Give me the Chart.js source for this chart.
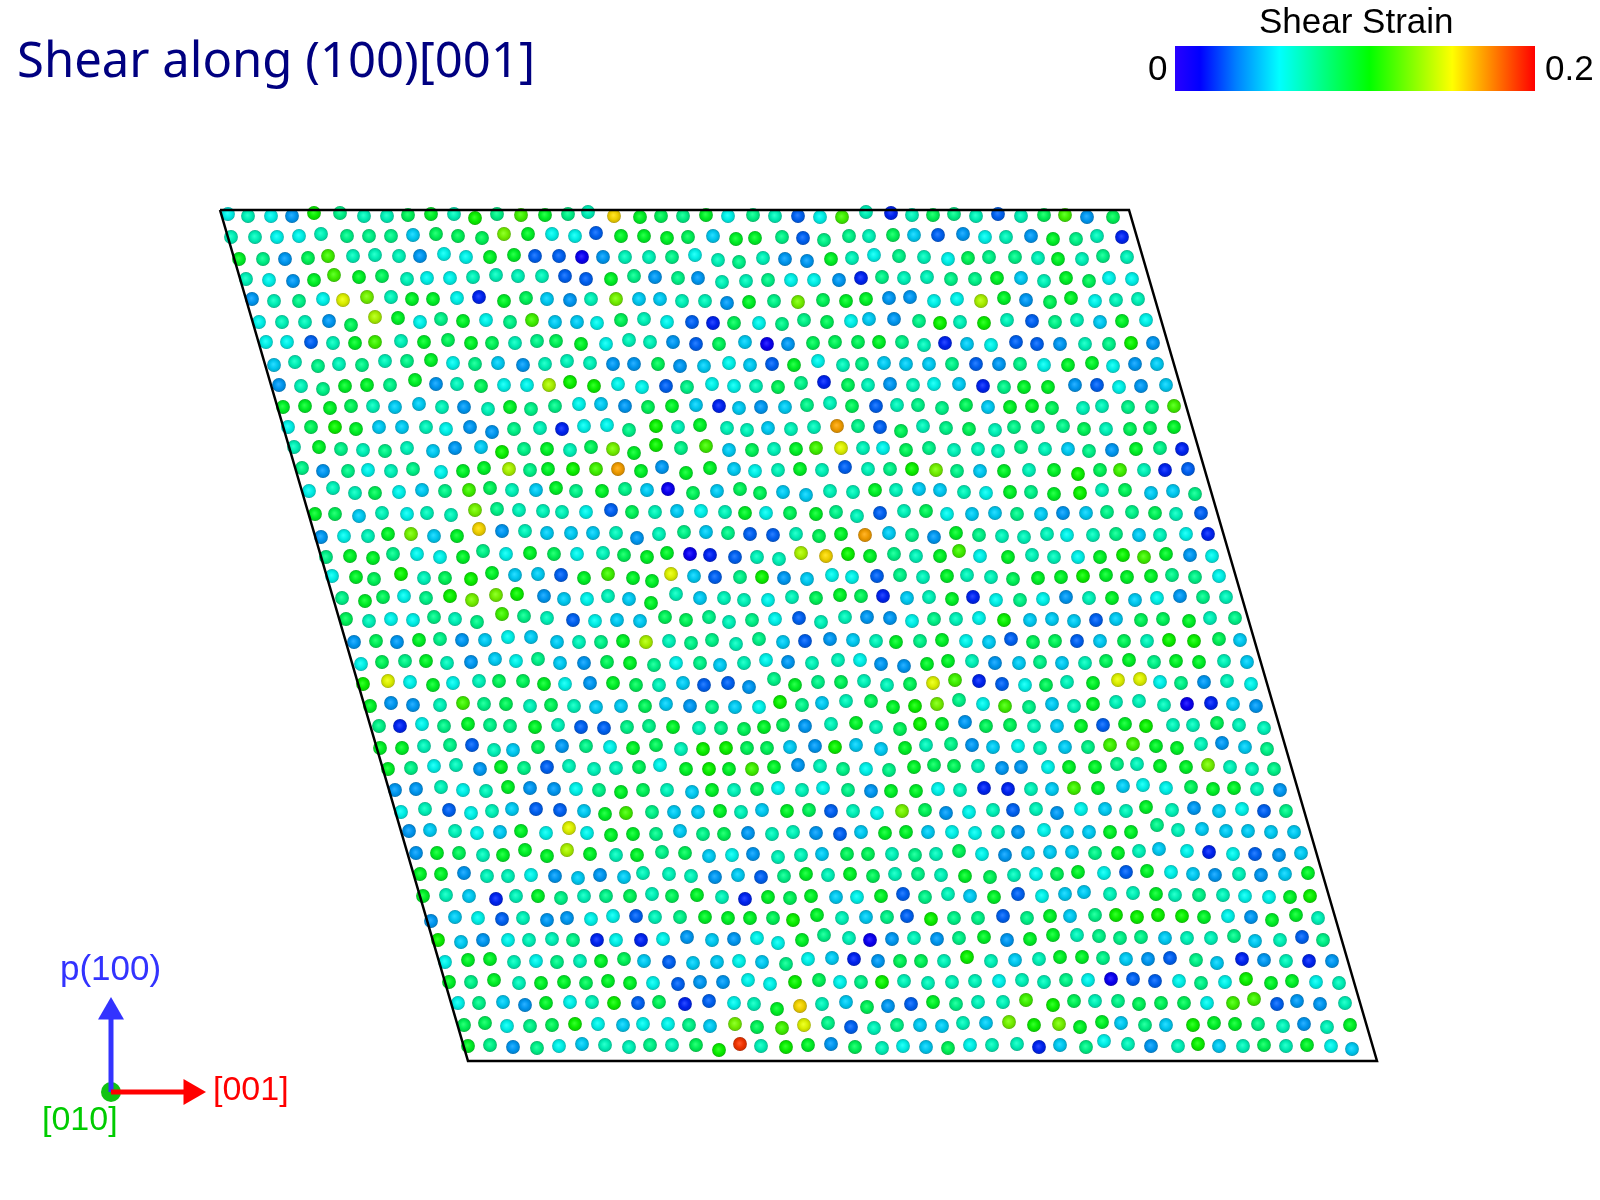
<!DOCTYPE html>
<html>
<head>
<meta charset="utf-8">
<title>Shear along (100)[001]</title>
<script src="https://cdn.jsdelivr.net/npm/chart.js@4/dist/chart.umd.min.js"></script>
<style>
html, body { margin: 0; padding: 0; background: #fff; }
canvas { display: block; }
</style>
</head>
<body>
<canvas id="atoms" width="1600" height="1200"></canvas>
<script>
// atom rows: row baseline, x per atom, y offset per atom, strain in units of 0.01
const rowY = [215,236,257,278,299,322,343,363,385,407,427,449,469,490,513,535,556,577,598,619,641,663,683,705,726,748,768,790,811,832,853,876,897,918,940,962,982,1003,1025,1046];

const rowX = [
[228,248,271,292,314,340,364,387,408,431,454,475,497,521,545,568,588,614,640,661,683,706,728,753,775,798,820,842,866,891,912,933,954,976,998,1021,1044,1065,1087,1113],
[231,255,277,299,321,347,369,391,413,436,458,482,504,528,552,575,596,621,644,667,688,713,736,755,782,803,824,849,869,893,914,938,963,985,1006,1031,1053,1076,1097,1122],
[239,263,285,308,328,353,375,399,420,444,466,490,514,535,559,582,603,625,649,672,695,718,739,763,785,807,831,852,874,899,924,948,968,989,1015,1038,1058,1082,1103,1127],
[246,269,293,314,334,359,382,407,427,450,473,496,518,542,565,586,611,634,655,678,698,722,746,768,791,814,839,861,882,904,927,951,975,997,1021,1044,1066,1089,1109,1132],
[252,274,299,323,343,367,391,412,433,457,479,504,526,547,570,591,616,639,660,682,705,727,749,774,798,823,846,866,889,910,934,957,981,1004,1026,1050,1071,1095,1116,1138],
[259,282,305,329,351,375,398,420,441,463,486,510,532,555,577,597,621,644,667,692,713,734,759,782,804,827,851,869,894,919,940,960,984,1007,1032,1055,1077,1100,1122,1146],
[266,287,311,333,355,375,401,424,448,471,492,515,537,556,581,606,629,650,673,696,719,745,767,788,813,835,858,879,902,924,945,967,991,1016,1037,1060,1085,1109,1131,1153],
[274,295,318,339,362,385,407,431,453,475,498,523,545,567,590,613,634,658,680,704,729,750,772,794,818,843,862,884,906,929,952,976,999,1020,1044,1068,1092,1113,1135,1157],
[279,301,323,345,367,390,415,436,457,481,504,527,549,570,594,618,642,666,687,712,734,756,778,801,824,848,868,890,913,934,959,983,1004,1024,1048,1075,1097,1119,1141,1166],
[283,305,330,351,373,395,419,442,464,488,510,531,555,579,601,625,648,672,696,719,739,761,785,807,830,852,876,897,918,942,966,988,1010,1032,1052,1083,1102,1128,1152,1174],
[288,311,335,356,379,402,426,446,470,492,514,540,562,584,607,629,656,678,700,727,747,768,791,814,837,858,880,901,923,946,969,995,1014,1038,1063,1084,1106,1130,1150,1174],
[294,319,341,363,385,407,433,455,481,502,524,547,570,591,613,634,656,681,706,729,752,774,796,816,841,863,883,906,929,954,978,998,1021,1045,1068,1089,1112,1136,1160,1182],
[302,323,348,368,391,413,441,463,484,509,530,548,573,596,618,641,662,686,710,734,755,778,800,822,845,868,890,912,936,957,980,1004,1029,1054,1078,1100,1120,1144,1165,1188],
[309,333,355,375,399,422,445,469,490,512,536,556,576,602,625,647,668,693,717,740,760,783,806,830,853,875,896,919,940,964,986,1010,1031,1054,1080,1102,1125,1151,1173,1195],
[315,335,359,382,407,427,451,475,497,519,543,562,586,611,632,655,677,701,725,745,766,790,816,836,857,880,904,926,947,972,995,1017,1041,1063,1086,1107,1132,1155,1176,1201],
[321,344,368,388,411,434,457,479,502,525,547,571,593,616,637,659,684,706,728,750,773,796,819,841,865,889,912,934,956,979,1002,1024,1047,1067,1093,1116,1139,1160,1186,1208],
[326,350,373,393,417,440,463,483,506,530,554,577,603,624,647,667,690,710,735,757,779,801,826,848,870,894,916,940,959,980,1008,1032,1054,1078,1100,1123,1144,1166,1190,1212],
[332,356,374,401,424,445,471,492,515,538,561,584,608,633,652,671,694,715,740,762,784,807,832,852,877,900,923,947,967,991,1013,1038,1061,1083,1106,1127,1151,1172,1195,1219],
[342,365,383,404,426,450,472,496,517,544,564,587,608,629,651,676,700,724,744,768,792,816,840,861,883,907,929,952,973,996,1020,1043,1066,1089,1112,1135,1157,1180,1203,1226],
[346,369,391,413,434,455,477,502,524,547,573,595,617,640,665,686,709,729,752,775,799,821,845,867,890,912,934,956,979,1004,1030,1052,1074,1096,1116,1141,1163,1189,1210,1235],
[354,376,397,419,440,462,485,508,531,557,579,601,623,646,669,691,712,736,759,783,805,830,853,876,896,920,942,966,989,1011,1033,1055,1077,1100,1124,1147,1169,1194,1219,1240],
[361,382,405,426,447,471,495,516,538,560,584,607,630,654,676,700,720,744,766,788,812,838,860,881,904,927,948,972,995,1019,1040,1062,1085,1106,1129,1154,1176,1199,1224,1247],
[363,388,410,433,453,479,499,523,544,565,590,613,636,659,683,704,728,749,774,795,818,841,864,887,910,933,955,979,1002,1025,1046,1067,1093,1118,1140,1160,1181,1204,1227,1251],
[370,391,413,440,463,484,506,530,551,574,596,621,645,666,690,712,735,759,780,802,822,846,871,893,915,937,959,983,1005,1029,1052,1074,1093,1116,1139,1164,1187,1211,1233,1256],
[379,400,422,444,468,490,510,535,558,581,604,627,649,673,699,721,744,764,783,805,831,856,876,900,920,942,965,986,1010,1034,1057,1081,1103,1125,1146,1173,1193,1217,1239,1264],
[380,402,424,450,472,494,513,538,562,586,610,633,656,681,703,726,747,767,790,815,835,856,881,905,926,951,972,993,1018,1040,1065,1088,1110,1133,1156,1177,1201,1222,1245,1267],
[388,411,434,456,480,501,524,547,569,594,616,639,660,686,709,729,752,774,798,820,843,866,889,914,934,954,978,1002,1021,1048,1069,1095,1117,1137,1160,1186,1208,1230,1252,1274],
[395,416,441,463,486,508,530,554,576,599,621,643,667,692,712,734,757,778,802,823,848,871,891,916,938,960,984,1008,1031,1052,1074,1098,1123,1143,1166,1191,1213,1234,1257,1280],
[401,425,449,471,492,512,536,560,584,605,626,652,674,698,720,741,762,787,809,831,853,877,902,925,946,969,993,1013,1036,1057,1081,1105,1126,1146,1172,1194,1219,1242,1264,1286],
[409,430,455,477,500,521,546,569,587,611,633,656,680,703,724,748,772,793,816,840,861,885,906,928,952,975,998,1018,1044,1067,1089,1110,1131,1157,1178,1202,1226,1248,1271,1294],
[416,437,459,483,503,525,547,567,590,616,637,662,685,709,732,753,778,801,822,847,868,892,915,936,959,982,1005,1028,1050,1072,1095,1118,1139,1159,1187,1209,1233,1255,1279,1301],
[420,441,464,487,508,531,555,578,600,624,643,669,691,715,738,761,784,806,828,850,873,895,918,941,965,990,1014,1036,1057,1078,1104,1126,1147,1171,1193,1215,1239,1261,1285,1308],
[423,446,469,496,516,538,561,584,606,630,652,672,697,722,745,768,790,811,836,857,881,903,925,948,970,994,1018,1042,1065,1084,1110,1133,1156,1175,1199,1223,1245,1269,1290,1310],
[431,455,478,502,523,547,567,591,613,636,655,680,705,728,750,773,793,817,842,866,887,907,931,954,978,1003,1027,1050,1070,1095,1116,1137,1158,1182,1204,1228,1251,1272,1296,1318],
[438,461,483,508,529,552,573,597,616,641,663,687,712,734,757,778,802,824,849,870,892,914,937,959,984,1007,1030,1053,1077,1099,1120,1141,1165,1187,1211,1234,1255,1280,1302,1323],
[445,468,490,514,536,557,580,601,624,644,669,693,717,739,762,786,808,832,854,878,900,921,944,967,991,1015,1039,1060,1082,1103,1126,1148,1170,1196,1217,1242,1264,1286,1309,1332],
[449,471,494,519,541,564,586,608,630,653,678,700,723,748,770,795,819,840,861,882,904,928,952,975,999,1022,1044,1066,1088,1111,1133,1155,1179,1201,1225,1246,1271,1292,1316,1339],
[458,479,503,525,546,570,592,614,638,659,685,709,734,754,777,800,822,846,867,888,911,933,956,978,1003,1026,1053,1074,1095,1118,1139,1161,1184,1207,1233,1254,1277,1297,1320,1345],
[464,485,507,530,552,575,598,623,643,668,689,710,735,757,782,804,828,851,874,897,920,942,963,986,1009,1034,1059,1080,1102,1121,1145,1166,1193,1214,1235,1258,1283,1304,1327,1350],
[468,490,513,537,559,582,605,629,650,672,696,719,740,761,786,808,831,855,882,903,926,948,970,992,1017,1039,1060,1086,1104,1128,1151,1178,1198,1219,1243,1264,1286,1307,1331,1352]
];

const rowDy = [
[-1,1,1,1,-2,-2,1,1,0,-1,-1,3,-1,0,0,-1,-3,1,2,1,1,0,1,0,1,1,2,2,-3,-2,0,0,-1,1,-1,1,0,0,2,2],
[1,1,1,0,-2,0,0,0,-1,-2,0,2,-2,-2,-2,0,-3,0,0,2,1,0,3,2,1,2,4,0,0,-1,-1,-1,-2,1,1,0,3,3,0,1],
[2,2,2,1,-1,-1,-2,-1,-1,-3,0,0,-2,-1,-1,0,0,0,0,0,-2,3,5,1,2,4,2,1,-2,-1,0,2,1,0,0,1,2,2,-1,0],
[1,2,3,2,-3,-1,-2,1,0,0,-1,-3,-2,-2,-2,1,1,-2,-1,0,0,4,3,2,2,2,2,0,-1,0,-1,1,1,0,0,3,0,3,0,1],
[0,2,2,0,1,-2,-2,0,0,-1,-2,2,-1,0,1,0,0,0,0,2,2,4,3,2,3,1,2,0,-1,-2,2,0,2,-1,1,3,-1,2,1,0],
[0,0,0,-1,3,-5,-4,0,-3,-1,-2,0,-2,0,0,1,-2,-3,0,0,1,1,1,2,-2,0,-1,-3,-3,-1,1,0,1,-2,-1,0,-2,0,-1,-2],
[-1,-1,-1,0,0,-1,-2,-1,-3,0,0,0,-2,-2,1,1,-3,-1,-1,1,1,-1,1,1,0,-1,-1,-1,-1,2,0,1,2,-1,1,1,1,1,0,0],
[2,-1,3,1,2,-2,-2,-3,0,1,0,2,1,-2,0,1,1,1,3,3,0,2,1,2,-2,2,1,0,1,1,1,1,1,1,2,2,0,3,1,1],
[0,1,4,1,0,0,-5,-1,-1,1,0,0,0,-3,1,-1,2,1,2,-1,1,1,2,-2,-3,0,0,-1,0,-1,-1,1,2,2,2,0,0,2,1,0],
[0,-1,1,-1,-1,0,-3,0,0,2,0,2,-1,-3,-3,-1,0,-1,-2,-1,1,0,0,-2,-4,-1,-1,-2,-2,1,-2,0,0,-1,1,1,-1,0,0,-1],
[0,0,0,2,0,0,0,2,0,5,2,1,2,-1,-2,3,-1,0,-2,1,3,1,2,0,-1,-1,0,4,-1,1,2,3,0,0,-1,2,2,2,1,0],
[-2,-2,0,1,2,-1,2,-1,-2,3,0,0,1,-2,0,4,-4,-1,-3,1,1,0,0,-1,-1,-1,-1,1,-1,1,0,2,-2,0,0,2,1,0,-1,0],
[-1,2,2,1,2,0,3,2,-1,0,1,0,0,0,0,2,-2,4,-1,0,2,1,0,1,-2,0,0,0,1,2,2,2,1,1,5,1,1,1,1,0],
[1,-2,3,3,2,0,1,0,-2,0,0,-2,1,1,-1,0,-1,3,1,-1,3,2,5,1,2,0,0,-1,0,2,3,2,2,4,3,0,0,3,1,4],
[1,1,3,0,1,0,2,-3,-4,-3,-2,-1,-1,-3,-1,-1,-2,-2,-1,0,0,0,1,-1,3,0,-2,-2,1,1,0,1,1,0,0,-1,-1,0,1,0],
[2,1,1,-1,-1,1,1,-6,-4,-4,-2,-2,-2,-2,3,-1,-3,-3,-2,-1,0,-1,1,-1,0,-2,0,2,-2,0,1,2,-1,0,0,-1,0,0,-1,-1],
[1,0,2,-2,-2,1,1,-5,-2,-3,-2,-2,-3,-1,1,-3,-2,-1,1,1,3,-3,0,-2,0,-2,0,0,-5,0,1,-1,1,1,1,-1,1,-2,-1,0],
[-1,0,2,-3,1,1,2,-4,-2,-3,-2,1,-3,1,4,-3,-1,0,0,0,1,2,-2,0,-1,-2,0,-1,-2,0,2,1,0,-1,-2,0,-1,-2,0,-1],
[0,3,-1,-2,0,-2,2,-3,-4,-2,1,1,-2,1,5,-4,0,0,2,2,-1,0,-3,-2,-2,0,-1,1,-1,2,2,1,-1,0,0,2,0,-2,-1,-1],
[0,2,0,1,-2,0,3,-5,-3,-1,1,2,1,2,-2,1,-2,3,1,0,-1,3,-2,-2,-1,2,0,0,-1,1,1,0,2,1,0,1,0,2,-1,-1],
[1,0,1,-1,-2,-1,-1,-4,-4,1,1,1,0,1,0,2,-1,3,-2,1,0,-2,-1,0,1,0,-1,0,1,-2,1,0,0,0,0,0,-1,0,-2,-1],
[1,-1,-2,-2,0,-1,-4,-2,-4,0,0,-1,0,2,0,0,2,0,-3,-1,0,-3,-3,1,3,1,-2,-2,0,0,-1,0,0,-2,-3,-1,-2,-1,-2,-1],
[1,-2,-1,2,0,-2,-2,-2,1,1,0,0,2,2,0,2,0,4,-4,2,-1,-1,-2,2,1,0,-3,-2,1,2,2,-1,0,-3,-4,-1,0,-1,-2,1],
[1,-2,0,0,-2,-1,-1,1,0,1,2,1,1,-1,1,2,2,2,-3,0,-2,-4,-4,2,1,-1,-5,-1,1,2,-1,1,-1,-3,-4,0,-1,-2,-1,1],
[0,0,-2,0,-2,-1,0,1,-1,1,2,1,0,1,2,2,3,1,-1,0,-2,-3,1,3,-2,-2,-4,0,-1,0,0,0,-1,-2,0,-1,-1,-3,-1,2],
[0,0,-2,-3,-3,2,2,-1,-2,-2,-1,0,-3,1,1,0,0,0,-1,-2,-1,-3,1,0,-3,-4,-3,-1,-2,0,-1,-1,-3,-4,-2,0,-4,-5,-1,1],
[1,0,-2,-3,1,-1,0,-1,-2,1,0,-1,-3,1,1,1,1,-1,-3,-2,1,1,2,-1,-3,-2,-2,0,-1,-1,-1,-1,-4,-4,-2,-1,-3,-1,1,1],
[0,-1,-3,0,1,-3,-2,-1,-1,0,2,0,0,2,0,0,-1,-2,0,-2,0,1,1,1,-1,0,-2,-1,-1,-1,-2,-2,-4,-5,-2,-3,-1,-2,-1,0],
[1,-2,-1,2,0,-2,-2,-1,0,3,2,1,1,1,0,1,-1,0,-1,0,0,2,0,-1,2,1,-1,-1,-2,2,-2,-2,0,-4,-1,-3,0,-2,0,0],
[-1,-2,-1,1,0,-1,1,-4,1,3,2,2,-1,2,2,1,2,0,1,2,0,1,0,0,0,1,0,0,-2,0,0,0,0,-7,-2,-3,-1,-1,0,0],
[0,0,0,2,2,-3,3,-3,1,2,2,-1,0,3,2,1,4,2,1,1,1,1,2,1,-2,1,2,0,-1,-1,0,0,-2,-4,-2,-1,1,1,2,0],
[-2,-2,-3,0,0,-1,0,2,-1,1,-3,-2,0,1,-1,1,0,-2,-1,-2,0,-2,-2,-1,0,1,-1,-2,-2,-4,-3,-4,-5,-4,-2,-1,-2,-1,-2,-3],
[-1,-2,-1,2,-1,-1,1,-1,-1,-1,-3,-1,-2,0,2,0,1,-1,0,0,-1,-3,0,-3,-1,0,-3,-1,-3,-5,-3,-4,-3,-2,-2,-2,-1,0,0,-1],
[3,-1,0,1,0,2,0,1,-2,-2,-1,-1,-1,0,0,0,2,-3,0,-1,-1,-2,1,0,0,-2,0,-2,-2,-3,-3,-1,-3,-2,-1,-2,-1,2,-3,0],
[0,2,0,0,0,-1,0,0,0,0,-1,-3,0,-1,-2,3,0,-5,-2,0,-1,-2,-1,-2,-3,0,-1,-5,-5,-4,-2,-3,-2,-2,-2,-4,1,0,-3,0],
[0,-2,-3,0,-1,0,-1,-1,-3,-1,0,1,0,-1,0,2,-3,-4,-3,-1,-1,-1,-1,-5,-1,-2,-3,-5,-5,-4,-3,-3,-4,-2,1,-3,-2,-1,-1,-1],
[0,0,-2,1,1,0,1,-1,1,1,2,0,0,-2,2,0,-2,0,0,0,-1,1,0,-1,-1,-2,0,-2,-2,-3,-3,-1,-1,1,0,-3,1,-1,0,1],
[0,0,-1,2,0,-1,-1,0,0,-1,1,-2,0,1,6,3,1,-1,4,3,1,-1,1,-1,-1,-3,2,-2,-2,-2,1,0,0,0,0,-4,1,-2,1,0],
[0,-2,1,1,0,-1,-1,0,-1,-1,0,1,-1,2,3,0,-2,2,3,0,0,1,-2,-2,-3,0,-1,2,-3,-2,0,0,0,-2,-1,-1,1,-1,2,0],
[0,-1,1,2,0,-2,-1,1,-1,-1,-1,4,-2,0,1,-1,-2,1,2,0,1,2,-1,-1,-2,1,-1,1,-5,-2,0,0,-2,0,0,-1,0,-1,0,3]
];

const rowStrain = [
[6,7,6,4,11,8,7,7,9,10,7,11,8,12,10,8,7,16,10,9,8,10,6,8,7,3,6,12,7,2,7,9,8,7,3,7,9,12,4,9],
[7,7,6,6,7,8,8,8,5,9,9,9,13,10,6,6,3,10,10,10,9,5,10,10,8,3,8,8,7,9,5,3,4,6,7,4,10,8,7,2],
[10,8,4,9,12,7,7,7,4,6,6,10,10,3,3,1,4,7,7,8,6,7,8,7,4,4,10,7,6,8,7,6,9,8,8,7,10,7,8,7],
[7,6,4,10,12,10,9,7,6,6,7,7,7,7,3,3,10,8,4,8,4,7,7,8,6,6,4,2,8,7,7,8,8,10,5,7,10,9,6,6],
[4,7,8,6,15,13,7,10,10,6,2,10,9,5,4,7,13,5,5,7,7,4,10,8,13,9,10,10,4,4,6,6,14,10,4,9,10,6,7,7],
[6,7,7,4,9,14,10,6,8,10,6,8,12,5,5,6,9,7,6,3,2,9,6,8,8,9,6,5,4,8,11,7,11,7,3,8,7,5,10,6],
[6,6,3,7,10,12,7,10,9,10,9,7,8,9,10,6,7,7,4,3,9,5,1,4,9,9,9,10,8,7,2,5,6,3,3,4,7,8,11,4],
[5,7,8,7,8,7,8,10,6,8,5,4,7,7,7,4,4,9,4,5,6,5,3,10,6,7,8,5,5,5,8,3,4,8,6,10,10,6,4,5],
[4,7,8,10,10,8,10,4,7,9,6,6,14,11,11,6,6,3,8,6,6,7,9,8,2,9,7,4,7,6,5,2,8,10,10,4,3,6,4,5],
[10,10,10,9,7,5,5,7,4,7,10,8,8,6,5,4,9,10,5,2,5,4,5,8,7,9,3,7,8,8,9,5,10,10,9,7,7,8,8,12],
[6,9,11,10,5,5,7,6,4,4,8,7,2,6,6,8,11,7,10,7,7,5,7,7,17,8,3,9,7,8,9,7,8,8,8,9,7,9,9,10],
[7,10,8,7,8,7,5,4,5,11,8,10,7,9,13,10,11,8,12,5,9,7,10,12,15,7,6,9,8,7,7,7,8,7,5,8,4,10,8,2],
[8,4,8,6,7,8,6,10,10,14,8,10,11,12,17,10,4,10,10,5,6,7,10,7,3,7,8,11,13,8,5,10,7,10,11,9,12,7,2,3],
[6,7,7,9,6,5,8,12,9,7,5,10,8,10,8,5,1,9,5,9,9,5,5,7,7,10,7,5,5,7,6,10,8,10,11,7,9,5,5,8],
[10,9,5,7,6,7,7,13,8,7,7,7,6,3,9,7,5,6,7,10,6,9,10,8,7,3,7,9,6,5,5,8,5,4,5,8,8,9,7,3],
[4,6,7,10,13,5,10,16,4,7,5,5,5,7,4,7,8,5,8,3,3,7,9,10,17,5,8,4,10,8,7,7,7,6,7,8,5,7,6,2],
[8,10,10,8,6,6,10,8,6,10,9,6,7,9,10,10,1,2,3,7,7,14,16,11,10,8,7,10,12,6,10,7,7,6,10,11,12,10,4,6],
[6,10,9,11,7,9,11,10,5,5,3,10,12,10,10,15,5,3,8,11,4,5,6,6,3,8,7,10,7,7,9,10,10,11,10,10,10,8,8,6],
[8,10,9,6,8,11,13,13,11,4,5,6,7,5,10,7,5,7,7,6,7,9,10,9,2,5,7,10,2,6,8,6,4,7,10,5,6,4,8,7],
[9,7,6,6,8,7,8,12,8,7,3,6,5,5,9,9,8,7,8,6,3,7,7,4,4,6,8,7,6,11,5,5,5,3,5,9,9,10,7,8],
[4,9,4,10,8,4,5,6,5,5,7,8,10,14,7,8,8,7,8,5,3,4,5,7,10,8,10,6,5,3,9,9,3,5,9,7,11,11,9,5],
[6,9,8,10,7,4,5,6,8,5,4,9,10,8,6,8,5,7,6,4,7,7,6,4,4,10,10,7,4,5,8,5,7,9,10,8,10,10,7,5],
[11,15,6,10,6,7,9,9,10,6,4,10,9,7,5,3,3,4,8,10,8,9,7,7,9,15,12,2,3,6,9,7,10,15,15,6,8,4,7,6],
[10,4,4,7,12,8,9,7,9,7,5,5,9,5,4,8,5,6,11,8,5,7,9,10,11,13,8,6,12,8,5,7,10,7,7,7,1,2,5,4],
[8,2,6,8,10,8,8,10,7,3,3,8,8,10,7,8,9,10,9,4,7,10,7,9,11,10,4,9,9,7,5,10,3,10,11,7,7,9,7,7],
[10,10,7,8,3,7,5,9,4,8,6,10,9,7,11,11,9,9,5,4,11,5,5,10,7,8,4,5,6,7,5,8,12,12,10,10,7,4,5,8],
[10,8,6,7,4,10,8,3,7,7,7,9,6,10,11,10,12,10,4,7,8,6,8,10,9,9,7,4,4,6,10,10,8,7,10,10,13,7,7,8],
[4,4,7,6,7,10,4,4,6,8,10,9,7,5,10,7,9,6,7,6,8,4,10,10,6,7,2,2,7,5,12,10,5,6,6,9,10,10,7,4],
[6,7,3,6,7,5,3,3,5,10,12,8,5,5,10,7,5,10,9,3,7,6,13,9,4,6,7,3,7,4,6,5,7,10,7,4,5,6,3,8],
[4,5,7,6,5,10,6,15,6,10,10,8,5,8,9,4,7,7,4,3,5,10,10,5,6,6,7,4,6,5,5,10,10,8,7,5,5,5,5,5],
[4,10,9,7,10,10,10,14,10,7,10,8,9,5,6,4,7,7,5,9,9,7,8,7,9,6,4,5,5,5,8,10,7,5,6,2,6,3,4,5],
[10,10,4,7,7,6,4,5,4,5,7,7,7,4,5,3,8,10,7,10,9,7,8,7,10,9,7,6,9,10,6,3,10,6,5,4,7,4,5,10],
[10,7,5,2,7,10,8,7,8,9,7,9,10,7,2,10,9,10,5,6,10,3,8,7,5,10,3,6,5,5,7,7,10,7,8,7,6,6,10,11],
[4,5,6,3,7,4,4,6,6,3,7,8,10,10,10,9,11,10,7,5,8,3,11,8,8,3,8,10,5,8,11,11,11,11,10,6,4,10,10,7],
[11,5,4,6,7,7,8,2,6,2,6,4,5,4,6,6,10,8,7,1,4,7,4,8,10,4,10,10,7,8,8,8,5,7,7,8,5,7,3,8],
[6,10,10,7,6,8,7,10,9,5,3,5,5,6,5,8,6,5,2,4,9,9,7,11,7,5,7,10,10,8,5,4,3,8,5,2,4,7,2,4],
[10,8,10,7,10,10,9,10,10,6,3,4,4,6,6,11,9,6,8,11,7,7,7,7,6,7,7,8,6,1,3,3,6,8,6,11,10,10,6,7],
[6,8,5,4,10,6,7,11,3,9,2,3,6,7,10,16,7,5,9,4,3,10,8,7,7,12,11,9,7,8,9,9,9,6,12,12,3,4,4,7],
[9,9,6,8,9,11,6,5,6,6,8,5,13,9,12,15,8,3,7,8,5,5,7,5,13,11,13,10,10,5,8,5,11,10,10,8,7,4,7,10],
[10,8,4,8,6,5,7,7,8,7,9,11,19,7,11,10,4,9,7,6,5,9,6,7,7,2,5,8,6,7,4,7,11,5,7,9,7,10,6,5]
];

// simulation box outline
const frameX = [220, 1129, 1377, 468, 220];
const frameY = [210, 210, 1061, 1061, 210];

// colour bar and strain colour scale
const barX = [1175, 1535];
const barY = [68.5, 68.5];
const barStops = [0, 0.07, 0.17, 0.29, 0.54, 0.77, 1];
const barColors = [[40,0,255],[0,0,255],[0,128,255],[0,255,255],[0,255,0],[255,255,0],[255,0,0]];

// orientation triad
const originX = [111];
const originY = [1092];
const upArrowX = [111, 111];
const upArrowY = [1092, 1016];
const rightArrowX = [111, 188];
const rightArrowY = [1092, 1092];
const upTipX = [111];
const upTipY = [1012];
const rightTipX = [191];
const rightTipY = [1092];

function strainColor(t) {
  let i = 0;
  while (i < barStops.length - 2 && t > barStops[i + 1]) i++;
  const f = Math.min(1, Math.max(0, (t - barStops[i]) / (barStops[i + 1] - barStops[i])));
  return barColors[i].map((c, k) => Math.round(c + (barColors[i + 1][k] - c) * f));
}

function shade(c, f) {
  return 'rgb(' + c.map(v => Math.min(255, Math.round(f >= 1 ? v + (255 - v) * (f - 1) : v * f))).join(',') + ')';
}

// one small shaded sphere per strain level
const sprites = {};
function sphere(s) {
  if (sprites[s]) return sprites[s];
  const cv = document.createElement('canvas');
  cv.width = 16;
  cv.height = 16;
  const c = cv.getContext('2d');
  const col = strainColor(s / 20);
  const g = c.createRadialGradient(7.4, 7.2, 0.5, 8, 8, 6.9);
  g.addColorStop(0, shade(col, 1.15));
  g.addColorStop(0.55, shade(col, 0.93));
  g.addColorStop(0.88, shade(col, 0.82));
  g.addColorStop(1, shade(col, 0.65));
  c.fillStyle = g;
  c.beginPath();
  c.arc(8, 8, 6.9, 0, Math.PI * 2);
  c.fill();
  sprites[s] = cv;
  return cv;
}

const atomPoints = [];
rowY.forEach((y, r) => {
  rowX[r].forEach((x, i) => {
    atomPoints.push({ x: x, y: y + rowDy[r][i], s: rowStrain[r][i] });
  });
});

function xy(xs, ys) {
  return xs.map((x, i) => ({ x: x, y: ys[i] }));
}

const labelsPlugin = {
  id: 'pageLabels',
  afterDraw(chart) {
    const c = chart.ctx;
    const sans = '"Liberation Sans", Arial, sans-serif';
    const texts = [
      ['Shear along (100)[001]', 17, 77, '400 49px "Noto Sans", sans-serif', '#000080'],
      ['Shear Strain', 1259, 33, '35px ' + sans, '#000000'],
      ['0', 1148, 80, '35px ' + sans, '#000000'],
      ['0.2', 1545, 80, '35px ' + sans, '#000000'],
      ['p(100)', 60, 980, '35px ' + sans, '#3333ff'],
      ['[001]', 213, 1100, '34px ' + sans, '#ff0000'],
      ['[010]', 42, 1130, '34px ' + sans, '#00cc00']
    ];
    c.save();
    c.textBaseline = 'alphabetic';
    texts.forEach(t => {
      c.font = t[3];
      c.fillStyle = t[4];
      c.fillText(t[0], t[1], t[2]);
    });
    c.restore();
  }
};

const ctx = document.getElementById('atoms').getContext('2d');

const barGradient = ctx.createLinearGradient(barX[0], 0, barX[1], 0);
barStops.forEach((st, i) => barGradient.addColorStop(st, 'rgb(' + barColors[i].join(',') + ')'));

new Chart(ctx, {
  type: 'scatter',
  plugins: [labelsPlugin],
  data: {
    datasets: [
      {
        label: 'red arrow tip',
        data: xy(rightTipX, rightTipY),
        pointStyle: 'triangle',
        rotation: 90,
        radius: 15,
        backgroundColor: '#ff0000',
        borderWidth: 0,
        order: 1
      },
      {
        label: 'red arrow',
        data: xy(rightArrowX, rightArrowY),
        showLine: true,
        borderColor: '#ff0000',
        borderWidth: 5,
        pointRadius: 0,
        order: 2
      },
      {
        label: 'blue arrow tip',
        data: xy(upTipX, upTipY),
        pointStyle: 'triangle',
        radius: 15,
        backgroundColor: '#3333ff',
        borderWidth: 0,
        order: 3
      },
      {
        label: 'blue arrow',
        data: xy(upArrowX, upArrowY),
        showLine: true,
        borderColor: '#3333ff',
        borderWidth: 5,
        pointRadius: 0,
        order: 4
      },
      {
        label: 'green origin',
        data: xy(originX, originY),
        radius: 10,
        backgroundColor: '#12c312',
        borderWidth: 0,
        order: 5
      },
      {
        label: 'box',
        data: xy(frameX, frameY),
        showLine: true,
        borderColor: '#000000',
        borderWidth: 2.5,
        borderJoinStyle: 'miter',
        pointRadius: 0,
        order: 6
      },
      {
        label: 'colour bar',
        data: xy(barX, barY),
        showLine: true,
        borderColor: barGradient,
        borderWidth: 45,
        pointRadius: 0,
        order: 7
      },
      {
        label: 'Shear Strain',
        data: atomPoints,
        pointStyle: c => sphere(c.raw.s),
        pointRadius: 7,
        order: 8
      }
    ]
  },
  options: {
    responsive: false,
    animation: false,
    layout: { autoPadding: false, padding: 0 },
    plugins: {
      legend: { display: false },
      tooltip: { enabled: false },
      title: { display: false }
    },
    scales: {
      x: { type: 'linear', min: 0, max: 1600, display: false },
      y: { type: 'linear', min: 0, max: 1200, reverse: true, display: false }
    }
  }
});
</script>
</body>
</html>
